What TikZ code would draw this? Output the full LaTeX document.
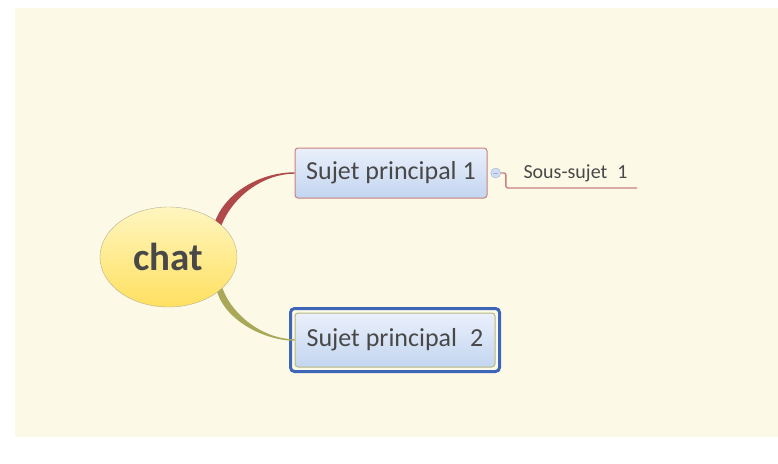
\documentclass[tikz,border=0pt]{standalone}
\usepackage{fontspec}
\setmainfont{Carlito}
\usepackage{xcolor}
\usetikzlibrary{shapes.geometric, positioning}
\definecolor{paper}{HTML}{FCFAE6}
\definecolor{ink}{HTML}{484848}
\definecolor{chattop}{HTML}{FFF6C0}
\definecolor{chatbottom}{HTML}{FFE060}
\definecolor{chatline}{HTML}{B8B090}
\definecolor{boxtop}{HTML}{EAF0FB}
\definecolor{boxbottom}{HTML}{C3D5F0}
\definecolor{redline}{HTML}{B04A4A}
\definecolor{redborder}{HTML}{CC8080}
\definecolor{oliveline}{HTML}{A8A858}
\definecolor{oliveborder}{HTML}{B8B884}
\definecolor{selblue}{HTML}{3D66B8}
\definecolor{dotblue}{HTML}{D2DDF3}
\definecolor{dotline}{HTML}{9FB2D6}
\tikzset{central/.style={ellipse, draw=chatline, top color=chattop, bottom color=chatbottom, minimum width=137pt, minimum height=100pt, inner sep=0pt, text=ink, font=\bfseries\fontsize{39}{39}\selectfont},
    topic/.style={rectangle, rounded corners=3pt, line width=1pt, top color=boxtop, bottom color=boxbottom, minimum height=50pt, inner sep=0pt, text=ink, font=\fontsize{26}{26}\selectfont},
    subtopic/.style={inner sep=0pt, text=ink, font=\fontsize{20}{20}\selectfont},
    collapse/.style={circle, draw=dotline, fill=dotblue, minimum size=10pt, inner sep=0pt},
    selection/.style={draw=selblue, line width=3pt, rounded corners=4pt},
}

\begin{document}
\begin{tikzpicture}[x=1pt, y=-1pt]
    \useasboundingbox (0,0) rectangle (778,463);
    \fill[paper] (15,8) rectangle (778,437);
    \node[central] (chat) at (168.5,257) {chat};
    \node[topic, draw=redborder, minimum width=192pt] (sp1) at (391,173) {Sujet principal 1};
    \node[topic, draw=oliveborder, minimum width=200pt, minimum height=54pt] (sp2) at (395,340) {Sujet principal\enspace 2};
    \draw[selection] ([xshift=-4pt, yshift=4pt]sp2.north west) rectangle ([xshift=4pt, yshift=-4pt]sp2.south east);
    \node[collapse, right=3pt of sp1] (dot) {};
    \draw[dotline, line width=.6pt] ([xshift=2.5pt]dot.west) -- ([xshift=-2.5pt]dot.east);
    \node[subtopic] (ss1) at (575.5,173) {Sous-sujet\enspace 1};
    \coordinate (ssend) at (637,188);
    % branches
    \fill[redline] (chat.31) .. controls +(12,-30) and +(-30,0) .. ([yshift=-.7pt]sp1.west) -- ([yshift=.7pt]sp1.west) .. controls +(-32,0) and +(12,-30) .. (chat.38) -- cycle;
    \fill[oliveline] (chat.-36) .. controls +(10,30) and +(-28,0) .. ([yshift=-.7pt]sp2.west) -- ([yshift=.7pt]sp2.west) .. controls +(-30,0) and +(10,28) .. (chat.-30) -- cycle;
    \draw[redborder, line width=1.4pt, rounded corners=2pt] (dot.east) -- ++(5,0) |- (ssend);
\end{tikzpicture}
\end{document}
